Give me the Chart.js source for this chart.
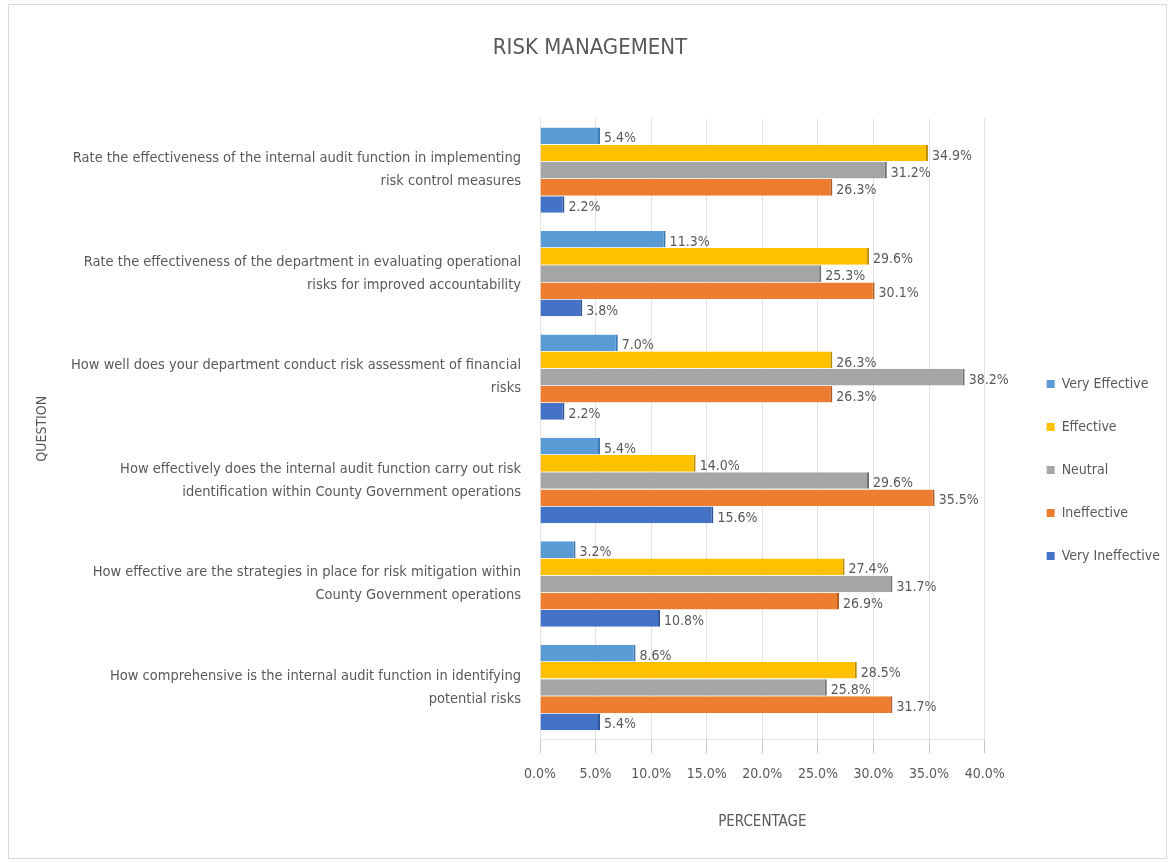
<!DOCTYPE html>
<html>
<head>
<meta charset="utf-8">
<script src="https://cdn.jsdelivr.net/npm/chart.js@4.4.1/dist/chart.umd.min.js"></script>
<style>
  html, body { margin: 0; padding: 0; background: #ffffff; }
  #wrap { width: 1170px; height: 863px; }
</style>
</head>
<body>
<div id="wrap"><canvas id="c" width="1170" height="863"></canvas></div>
<script>
const categories = [
  ["Rate the effectiveness of the internal audit function in implementing", "risk control measures"],
  ["Rate the effectiveness of the department in evaluating operational", "risks for improved accountability"],
  ["How well does your department conduct risk assessment of financial", "risks"],
  ["How effectively does the internal audit function carry out risk", "identification within County Government operations"],
  ["How effective are the strategies in place for risk mitigation within", "County Government operations"],
  ["How comprehensive is the internal audit function in identifying", "potential risks"]
];
const seriesNames = ["Very Effective", "Effective", "Neutral", "Ineffective", "Very Ineffective"];
const veryEffective   = [5.4, 11.3, 7.0, 5.4, 3.2, 8.6];
const effective       = [34.9, 29.6, 26.3, 14.0, 27.4, 28.5];
const neutral         = [31.2, 25.3, 38.2, 29.6, 31.7, 25.8];
const ineffective     = [26.3, 30.1, 26.3, 35.5, 26.9, 31.7];
const veryIneffective = [2.2, 3.8, 2.2, 15.6, 10.8, 5.4];
const xTicks = [0, 5, 10, 15, 20, 25, 30, 35, 40];

const seriesValues = [veryEffective, effective, neutral, ineffective, veryIneffective];
const seriesColors = ["#5B9BD5", "#FFC000", "#A5A5A5", "#ED7D31", "#4472C4"];
const seriesEdges  = ["#3F79AE", "#B98C00", "#6E6E6E", "#B45A1E", "#2F5597"];
const FONT = "'Liberation Sans Narrow', 'DejaVu Sans Condensed', 'Roboto', sans-serif";
const TXT = "#595959";

const borderPlugin = {
  id: 'outerBorder',
  beforeDraw(chart) {
    const ctx = chart.ctx;
    ctx.save();
    ctx.fillStyle = '#ffffff';
    ctx.fillRect(0, 0, chart.width, chart.height);
    ctx.strokeStyle = '#d9d9d9';
    ctx.lineWidth = 1;
    ctx.strokeRect(8.5, 4.5, 1158, 854);
    ctx.restore();
  }
};

const labelPlugin = {
  id: 'valueLabels',
  afterDatasetsDraw(chart) {
    const ctx = chart.ctx;
    ctx.save();
    ctx.font = "14px " + FONT;
    ctx.fillStyle = TXT;
    ctx.textAlign = 'left';
    ctx.textBaseline = 'middle';
    chart.data.datasets.forEach((ds, di) => {
      const meta = chart.getDatasetMeta(di);
      meta.data.forEach((el, i) => {
        const v = ds.data[i];
        ctx.fillText(v.toFixed(1) + '%', el.x + 4, el.y + 3);
      });
    });
    ctx.restore();
  }
};

new Chart(document.getElementById('c'), {
  type: 'bar',
  data: {
    labels: categories,
    datasets: seriesNames.map((name, i) => ({
      label: name,
      data: seriesValues[i],
      backgroundColor: seriesColors[i],
      borderColor: seriesEdges[i],
      borderWidth: { right: 2, left: 0, top: 0, bottom: 0 },
      borderSkipped: 'left',
      categoryPercentage: 0.83,
      barPercentage: 0.97
    }))
  },
  options: {
    indexAxis: 'y',
    responsive: false,
    animation: false,
    devicePixelRatio: 1,
    layout: { padding: { left: 10, right: 0, top: 18, bottom: 28 } },
    plugins: {
      title: {
        display: true,
        text: 'RISK MANAGEMENT',
        color: TXT,
        font: { family: FONT, size: 22, weight: 'normal' },
        padding: { top: 17, bottom: 57 }
      },
      legend: {
        position: 'right',
        title: {
          display: true,
          text: '',
          font: { family: FONT, size: 14 },
          padding: { top: 70, bottom: 0 }
        },
        labels: {
          color: TXT,
          font: { family: FONT, size: 14 },
          boxWidth: 8,
          boxHeight: 8,
          padding: 29,
          generateLabels(chart) {
            return chart.data.datasets.map((ds, i) => ({
              text: ds.label,
              fillStyle: seriesColors[i],
              strokeStyle: seriesColors[i],
              lineWidth: 0,
              fontColor: TXT,
              hidden: false,
              datasetIndex: i
            }));
          }
        }
      },
      tooltip: { enabled: false }
    },
    scales: {
      x: {
        min: 0,
        max: 40,
        afterBuildTicks(scale) { scale.ticks = xTicks.map(v => ({ value: v })); },
        ticks: {
          color: TXT,
          font: { family: FONT, size: 14 },
          padding: 13,
          callback: (v) => Number(v).toFixed(1) + '%'
        },
        grid: { color: '#e3e3e3', drawTicks: true, tickLength: 14, tickColor: '#c8c8c8' },
        border: { color: '#e3e3e3' },
        title: {
          display: true,
          text: 'PERCENTAGE',
          color: TXT,
          font: { family: FONT, size: 15 },
          padding: { top: 17, bottom: 4 }
        }
      },
      y: {
        afterFit(scale) { scale.width = 530; },
        ticks: {
          color: TXT,
          font: { family: FONT, size: 14.5, lineHeight: 1.6 },
          padding: 19,
          crossAlign: 'near'
        },
        grid: { display: false, drawTicks: false },
        border: { display: false },
        title: {
          display: true,
          text: 'QUESTION',
          color: TXT,
          font: { family: FONT, size: 14 },
          padding: { top: 24, bottom: 0 }
        }
      },
      yPad: {
        type: 'linear',
        position: 'right',
        display: true,
        afterFit(scale) { scale.width = 33; },
        ticks: { display: false },
        grid: { display: false, drawTicks: false },
        border: { display: false }
      }
    }
  },
  plugins: [borderPlugin, labelPlugin]
});
</script>
</body>
</html>
